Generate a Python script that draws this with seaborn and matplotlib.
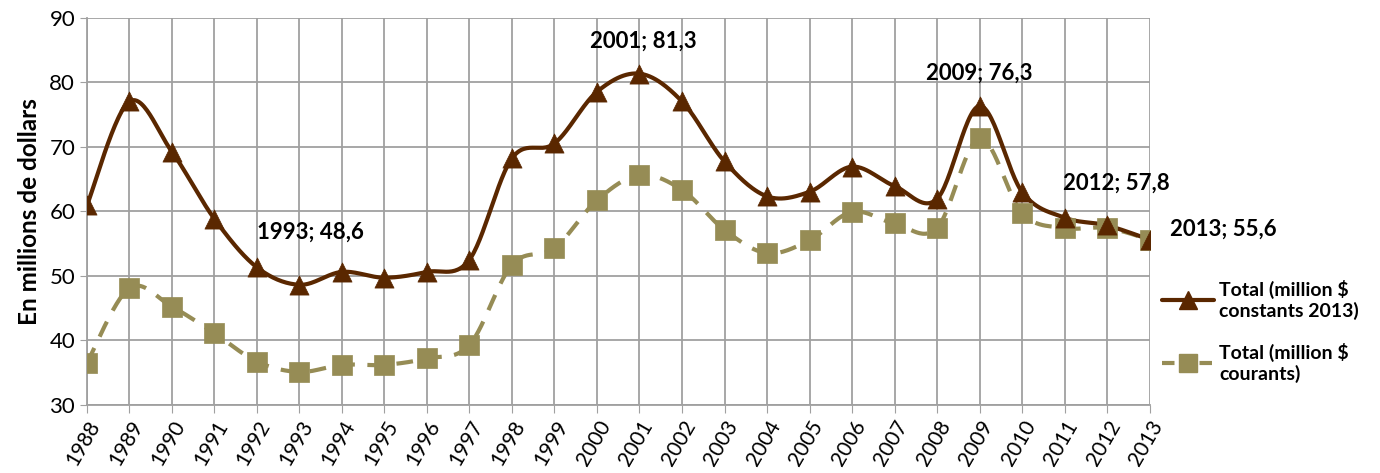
import numpy as np
import pandas as pd
import matplotlib
matplotlib.use("Agg")
import matplotlib.pyplot as plt
import seaborn as sns

# --- Data ---
years = list(range(1988, 2014))
constants_2013 = [60.9, 77.0, 69.2, 58.8, 51.3, 48.6, 50.6, 49.7, 50.6, 52.5,
                  68.2, 70.5, 78.5, 81.3, 77.0, 67.7, 62.3, 63.0, 66.9, 63.9,
                  61.9, 76.3, 63.0, 59.0, 57.8, 55.6]
courants = [36.5, 48.1, 45.2, 41.1, 36.7, 35.1, 36.2, 36.2, 37.2, 39.3,
            51.7, 54.3, 61.7, 65.6, 63.3, 57.1, 53.5, 55.5, 59.9, 58.1,
            57.4, 71.3, 59.7, 57.4, 57.4, 55.6]
label_const = "Total (million $\nconstants 2013)"
label_cour = "Total (million $\ncourants)"
callouts = [(1993, 48.6), (2001, 81.3), (2009, 76.3), (2012, 57.8), (2013, 55.6)]

COL_CONST = "#5a2700"
COL_COUR = "#968c55"


def smooth(x, y, n=30):
    # Excel-style smoothed line: cubic Bezier between points, tension 1/6
    x = np.asarray(x, float)
    y = np.asarray(y, float)
    xs, ys = [], []
    for i in range(len(x) - 1):
        p0 = np.array([x[max(i - 1, 0)], y[max(i - 1, 0)]])
        p1 = np.array([x[i], y[i]])
        p2 = np.array([x[i + 1], y[i + 1]])
        p3 = np.array([x[min(i + 2, len(x) - 1)], y[min(i + 2, len(x) - 1)]])
        c1 = p1 + (p2 - p0) / 6
        c2 = p2 - (p3 - p1) / 6
        t = np.linspace(0, 1, n)[:, None]
        pts = ((1 - t) ** 3) * p1 + 3 * ((1 - t) ** 2) * t * c1 + 3 * (1 - t) * t ** 2 * c2 + t ** 3 * p2
        xs.extend(pts[:, 0])
        ys.extend(pts[:, 1])
    return np.array(xs), np.array(ys)


df = pd.DataFrame({"Année": years, "const": constants_2013, "cour": courants})

sns.set_style("white")
plt.rcParams["font.family"] = ["Lato", "DejaVu Sans"]
plt.rcParams["text.color"] = "black"
plt.rcParams["axes.labelcolor"] = "black"
plt.rcParams["xtick.labelcolor"] = "black"
plt.rcParams["ytick.labelcolor"] = "black"

fig = plt.figure(figsize=(13.8, 4.73), dpi=100)
ax = fig.add_axes([0.063, 0.144, 0.770, 0.819])

sx, sy = smooth(years, constants_2013)
ax.plot(sx, sy, color=COL_CONST, lw=3, zorder=3)
sx, sy = smooth(years, courants)
ax.plot(sx, sy, color=COL_COUR, lw=3, ls=(0, (4, 3)), zorder=2)

sns.scatterplot(data=df, x="Année", y="const", marker="^", s=190, color=COL_CONST,
                edgecolor=COL_CONST, linewidth=0.5, ax=ax, zorder=4)
sns.scatterplot(data=df, x="Année", y="cour", marker="s", s=210, color=COL_COUR,
                edgecolor=COL_COUR, linewidth=0.5, ax=ax, zorder=3)

offsets = [(11, 53), (4, 32), (0, 33), (9, 42), (74, 10)]
for (yr, val), off in zip(callouts, offsets):
    ax.annotate(f"{yr}; {str(val).replace('.', ',')}", xy=(yr, val), xytext=off,
                textcoords="offset pixels", ha="center", va="center",
                fontsize=16, fontweight="bold", color="black")

ax.set_xlim(1988, 2013)
ax.set_ylim(30, 90)
ax.set_xticks(years)
ax.set_xticklabels([str(y) for y in years], rotation=60, ha="right",
                   rotation_mode="anchor", fontsize=15)
ax.set_yticks(range(30, 91, 10))
ax.tick_params(axis="y", labelsize=16, length=5, color="#a0a0a0", direction="out", left=True)
ax.tick_params(axis="x", length=6, color="#a0a0a0", direction="out", bottom=True, pad=3)
ax.grid(True, color="#a0a0a0", lw=1.3)
for s in ["top", "right"]:
    ax.spines[s].set_visible(False)
for s in ["left", "bottom"]:
    ax.spines[s].set_color("#a0a0a0")
    ax.spines[s].set_linewidth(1.3)
ax.set_xlabel("")
ax.set_ylabel("En millions de dollars", fontsize=17.5, fontweight="bold", labelpad=6)

handles = [
    plt.Line2D([], [], color=COL_CONST, lw=3, marker="^", markersize=13),
    plt.Line2D([], [], color=COL_COUR, lw=3, ls=(0, (3, 1.5)), marker="s", markersize=13),
]
leg = ax.legend(handles, [label_const, label_cour], loc="center left",
                bbox_to_anchor=(0.995, 0.19), frameon=False, handlelength=2.7,
                handletextpad=0.25, labelspacing=1.2, prop={"size": 14, "weight": "bold"})

fig.savefig("out.png", dpi=100)
